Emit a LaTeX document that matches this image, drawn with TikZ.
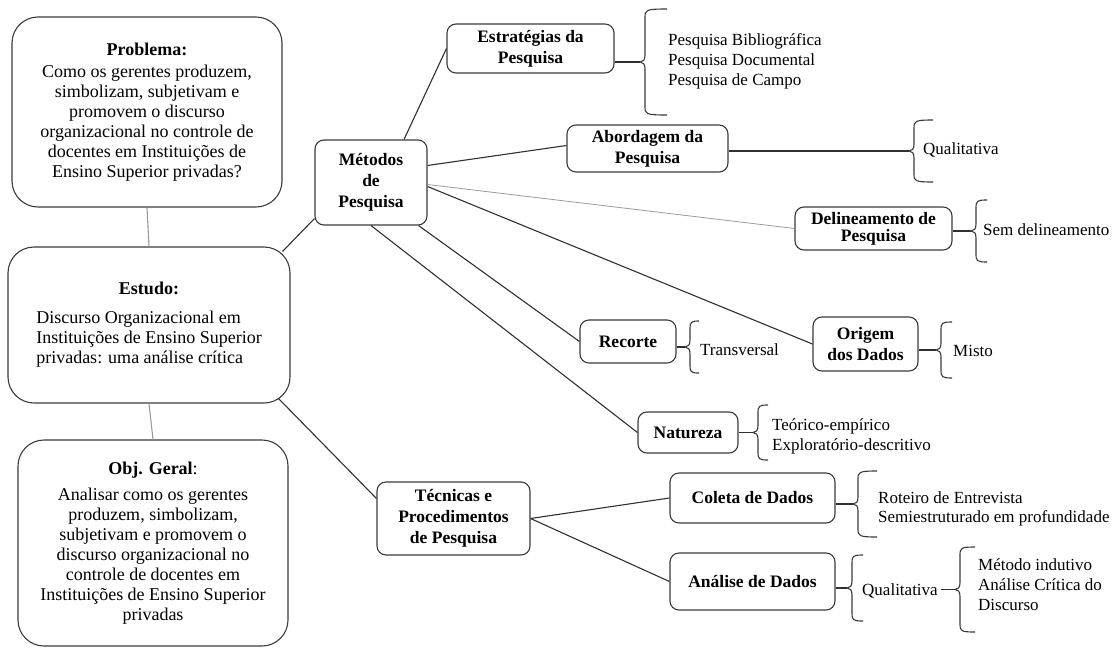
\documentclass[tikz,border=0pt]{standalone}
\usepackage{fontspec}
\setmainfont{Liberation Serif}
\definecolor{boxc}{HTML}{3A3A3A}
\definecolor{linec}{HTML}{303030}
\definecolor{greyc}{HTML}{9A9A9A}
\newcommand\curlybr[5]{%
 \coordinate (#1) at ({#2-5},{(#3+#4)/2});
 \draw[brc] ({#5},{#3}) .. controls ({#2+1},{#3}) and ({#2},{#3+1}) .. ({#2},{#3+8})
   -- ({#2},{(#3+#4)/2-7}) .. controls ({#2},{(#3+#4)/2-2}) and ({#2-2},{(#3+#4)/2}) .. (#1)
   .. controls ({#2-2},{(#3+#4)/2}) and ({#2},{(#3+#4)/2+2}) .. ({#2},{(#3+#4)/2+7})
   -- ({#2},{#4-8}) .. controls ({#2},{#4-1}) and ({#2+1},{#4}) .. ({#5},{#4});}
\tikzset{
 bigbox/.style={draw=boxc, line width=1.1pt, rounded corners=26pt, align=center, inner sep=0pt,
   font=\fontsize{18}{20}\selectfont},
 box/.style={draw=boxc, line width=1.1pt, rounded corners=9pt, align=center, inner sep=0pt,
   font=\fontsize{17.5}{21}\selectfont\bfseries},
 txt/.style={anchor=west, align=left, inner sep=0pt, font=\fontsize{17}{20}\selectfont},
 conn/.style={draw=linec, line width=1.1pt},
 gconn/.style={draw=greyc, line width=1.1pt},
 brc/.style={draw=boxc, line width=1.1pt},
}
\begin{document}
\begin{tikzpicture}[x=1pt,y=-1pt]
\useasboundingbox (0,0) rectangle (1117,648);
% left boxes
\node[bigbox, minimum width=270pt, minimum height=190pt] (prob) at (147,112)
 {\textbf{Problema:}\\[2pt]Como os gerentes produzem,\\simbolizam, subjetivam e\\promovem o discurso\\organizacional no controle de\\docentes em Instituições de\\Ensino Superior privadas?};
\node[bigbox, minimum width=282pt, minimum height=156pt] (estudo) at (149,325)
 {\begin{tabular}{@{}l@{}}\multicolumn{1}{@{}c@{}}{\textbf{Estudo:}}\\[9pt]Discurso Organizacional em\\Instituições de Ensino Superior\\privadas: uma análise crítica\end{tabular}};
\node[bigbox, minimum width=270pt, minimum height=206pt] (obj) at (153,543)
 {\textbf{Obj. Geral}:\\[6pt]Analisar como os gerentes\\produzem, simbolizam,\\subjetivam e promovem o\\discurso organizacional no\\controle de docentes em\\Instituições de Ensino Superior\\privadas};
% middle boxes
\node[box, minimum width=112pt, minimum height=85pt] (met) at (371,182.5) {Métodos\\de\\Pesquisa};
\node[box, minimum width=153pt, minimum height=73pt] (tec) at (453.5,518.5) {Técnicas e\\Procedimentos\\de Pesquisa};
\node[box, minimum width=167pt, minimum height=49pt] (estr) at (530.5,48.5) {Estratégias da\\Pesquisa};
\node[box, minimum width=161pt, minimum height=47pt] (abord) at (647.5,148.5) {Abordagem da\\Pesquisa};
\node[box, minimum width=157pt, minimum height=43pt, font=\fontsize{17.5}{17}\selectfont\bfseries] (delin) at (873.5,228.5) {Delineamento de\\Pesquisa};
\node[box, minimum width=96pt, minimum height=43pt] (recorte) at (628,341.5) {Recorte};
\node[box, minimum width=105pt, minimum height=54pt] (origem) at (865.5,344) {Origem\\dos Dados};
\node[box, minimum width=100pt, minimum height=41pt] (natureza) at (688,432.5) {Natureza};
\node[box, minimum width=165pt, minimum height=50pt] (coleta) at (752.5,498) {Coleta de Dados};
\node[box, minimum width=165pt, minimum height=57pt] (analise) at (752.5,581.5) {Análise de Dados};
% texts
\node[txt] (estrtxt) at (668,61.5) {Pesquisa Bibliográfica\\Pesquisa Documental\\Pesquisa de Campo};
\node[txt] (qual1) at (923,150) {Qualitativa};
\node[txt] (sem) at (983,230) {Sem delineamento};
\node[txt] (transv) at (700,350) {Transversal};
\node[txt] (misto) at (953,351) {Misto};
\node[txt] (nattxt) at (772,436) {Teórico-empírico\\Exploratório-descritivo};
\node[txt, font=\fontsize{17}{19}\selectfont] (coltxt) at (878,509) {Roteiro de Entrevista\\Semiestruturado em profundidade};
\node[txt] (qual2) at (862,591) {Qualitativa};
\node[txt] (mettxt) at (978,585) {Método indutivo\\Análise Crítica do\\Discurso};
% braces
\curlybr{b1}{645}{9}{115}{667}
\curlybr{b2}{914}{120}{182}{933}
\curlybr{b3}{976}{200}{262}{987}
\curlybr{b4}{690}{321}{373}{699}
\curlybr{b5}{941}{322}{378}{952}
\curlybr{b6}{758}{405}{460}{768}
\curlybr{b7}{858}{471}{537}{877}
\curlybr{b8}{852}{555}{621}{863}
\curlybr{b9}{960}{547}{632}{975}
% connectors
\draw[gconn] (prob.south) -- (estudo.north);
\draw[gconn] (estudo.south) -- (obj.north);
\draw[conn] ([xshift=-8pt,yshift=-5pt]estudo.north east) -- ([yshift=7pt]met.south west);
\draw[conn] ([xshift=-12pt,yshift=5pt]estudo.south east) -- ([yshift=20pt]tec.west);
\draw[conn] ([xshift=33pt]met.north) -- (estr.west);
\draw[conn] ([yshift=17pt]met.east) -- ([yshift=3pt]abord.west);
\draw[gconn, line width=0.8pt] ([yshift=-2pt]met.east) -- (delin.west);
\draw[conn] ([yshift=-4pt]met.east) -- (origem.west);
\draw[conn] ([xshift=-9pt]met.south east) -- (recorte.west);
\draw[conn] (met.south) -- (natureza.west);
\draw[conn] (tec.east) -- (coleta.west);
\draw[conn] (tec.east) -- (analise.west);
\draw[conn] (estr.east |- b1) -- (b1);
\draw[conn] (abord.east |- b2) -- (b2);
\draw[conn] (delin.east |- b3) -- (b3);
\draw[conn] (recorte.east |- b4) -- (b4);
\draw[conn] (origem.east |- b5) -- (b5);
\draw[conn] (natureza.east |- b6) -- (b6);
\draw[conn] (coleta.east |- b7) -- (b7);
\draw[conn] (analise.east |- b8) -- (b8);
\draw[conn] ([xshift=3pt]qual2.east |- b9) -- (b9);
\end{tikzpicture}
\end{document}
